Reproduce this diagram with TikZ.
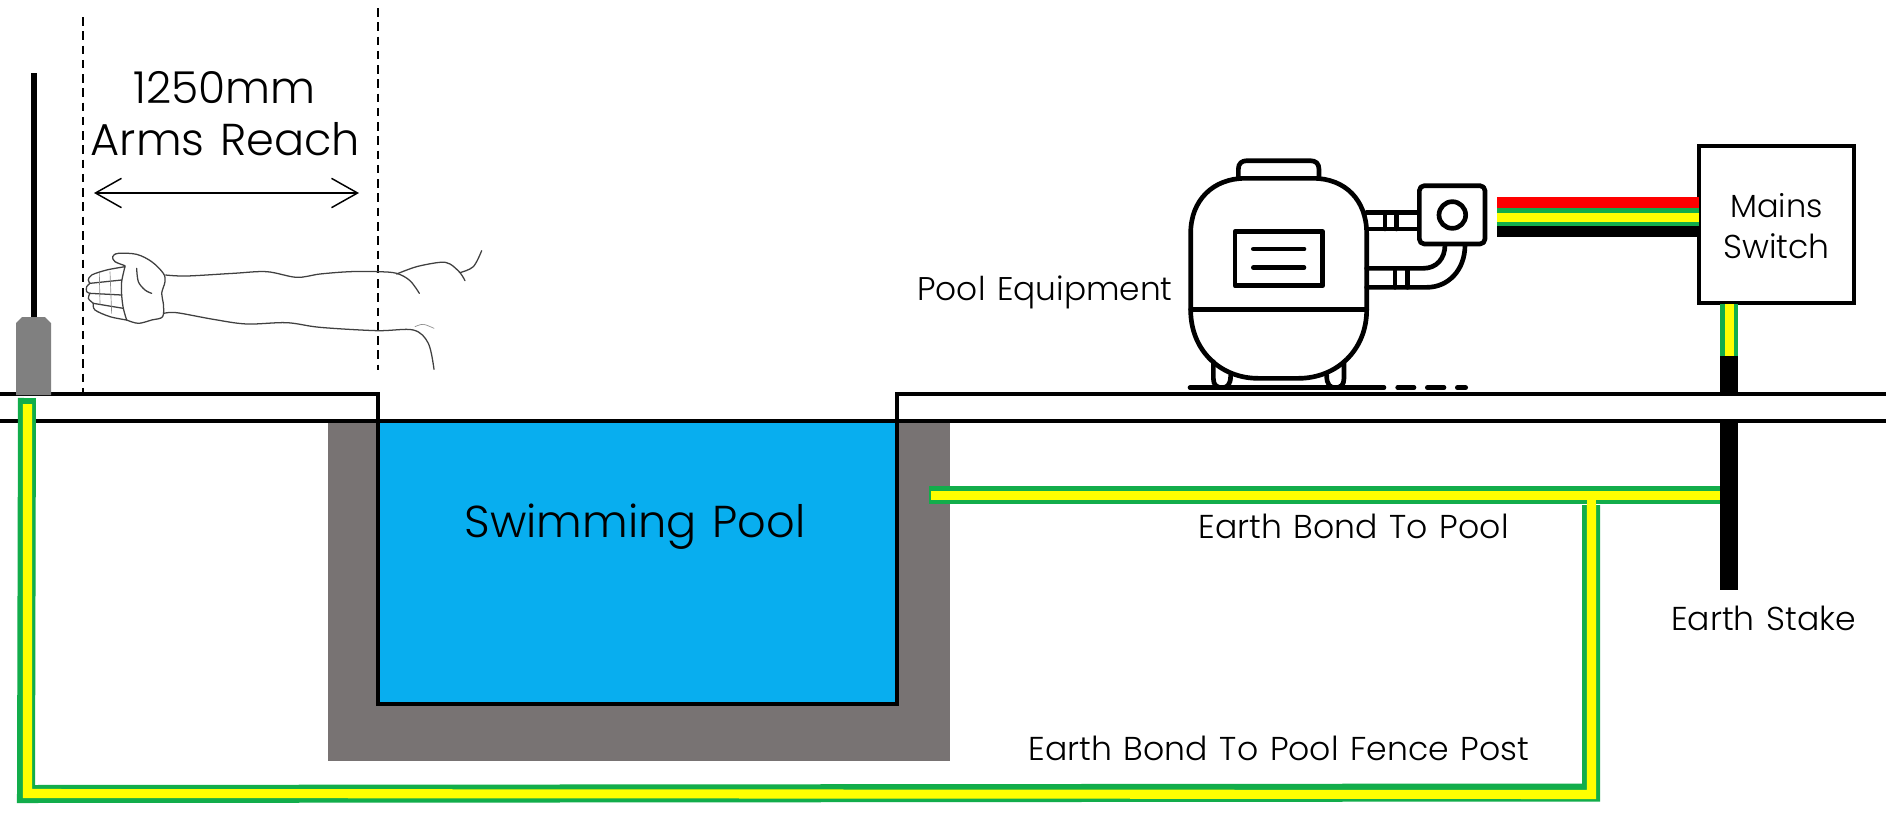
\documentclass[tikz,border=0pt]{standalone}
\usepackage{fontspec}
\setmainfont{Poppins Light}[WordSpace=1.3]
\usetikzlibrary{arrows.meta}
\definecolor{wiregreen}{HTML}{12AD4B}
\definecolor{wireyellow}{HTML}{FFFF00}
\definecolor{wirered}{HTML}{FF0000}
\definecolor{poolblue}{HTML}{08AEEF}
\definecolor{shellgrey}{HTML}{787373}
\definecolor{postgrey}{HTML}{808080}
\definecolor{armline}{HTML}{404040}
\tikzset{
  x=0.75pt,y=-0.75pt,
  ground/.style={line width=2.6pt,black,miter limit=10},
  dimline/.style={line width=1.5pt,black,dash pattern=on 6.4pt off 4.3pt},
  greenw/.style={line width=13.5pt,wiregreen},
  yellowW/.style={line width=6.8pt,wireyellow},
  blackw/.style={line width=8.25pt,black},
  stake/.style={line width=13.5pt,black},
  bigtext/.style={font=\fontsize{33.5}{40}\selectfont,anchor=base,inner sep=0pt,text=black},
  smalltext/.style={font=\fontsize{24.8}{28}\selectfont,anchor=base,inner sep=0pt,text=black},
  icon/.style={line width=3.5pt,black,line cap=round,line join=round},
  arm/.style={line width=0.95pt,armline,line cap=round,line join=round},
  armfaint/.style={line width=0.5pt,armline!60,line cap=round},
  dim/.style={line width=1.1pt,black,{Straight Barb[length=19.5pt,width=22pt]}-{Straight Barb[length=19.5pt,width=22pt]}},
  zoomA/.style={x=0.25pt,y=-0.25pt},
}
\begin{document}
\begin{tikzpicture}
\useasboundingbox (0,0) rectangle (1886,822);
\fill[white] (0,0) rectangle (1886,822);
% shell and water
\fill[shellgrey] (328,421) rectangle (950,761);
\node[draw=black,fill=poolblue,line width=2.6pt,outer sep=0pt,minimum width=519*0.75pt,minimum height=283*0.75pt,inner sep=0pt,anchor=north west] (pool) at (378,421) {};
% ground
\coordinate (gl) at (0,394);
\coordinate (gr) at (1886,394);
\draw[ground] (gl) -- (378,394) -- (378,421);
\draw[ground] (897,421) -- (897,394) -- (gr);
\draw[ground] (0,421) -- (1886,421);
% fence post
\coordinate (postTop) at (34,73);
\coordinate (postBase) at (34,318);
\draw[line width=4.5pt,black] (postTop) -- (postBase);
\fill[postgrey] (16,395) -- (16,323) -- (22,317) -- (45,317) -- (51,323) -- (51,395) -- cycle;
% dashed limits
\coordinate (dA) at (83,17);
\coordinate (dB) at (83,393);
\coordinate (dC) at (378,8);
\coordinate (dD) at (378,370);
\draw[dimline] (dA) -- (dB);
\draw[dimline] (dC) -- (dD);
% dimension
\coordinate (arrL) at (94,193);
\coordinate (arrR) at (359,193);
\draw[dim] (arrL) -- (arrR);
\node[bigtext,font=\fontsize{33}{40}\selectfont] (t1250) at (224.5,103) {1250mm};
\node[bigtext] (tarms) at (225.5,155) {Arms Reach};
\node[bigtext] (tpool) at (635,537) {Swimming Pool};
% arm
\begin{scope}[zoomA]
\draw[arm] plot[smooth,tension=.55] coordinates {(497,825) (560,828) (700,820) (800,815) (890,832) (960,822) (1050,815) (1134,815) (1190,820) (1230,842) (1258,880)};
\draw[arm] plot[smooth,tension=.55] coordinates {(1190,822) (1250,800) (1320,787) (1350,792) (1380,818) (1395,842)};
\draw[arm] plot[smooth,tension=.55] coordinates {(1380,818) (1420,800) (1445,752)};
\draw[arm] plot[smooth,tension=.55] coordinates {(492,940) (530,938) (640,958) (740,972) (860,968) (960,982) (1130,992) (1240,990) (1285,1030) (1302,1108)};
\draw[armfaint] plot[smooth,tension=.55] coordinates {(1245,980) (1270,973) (1302,985)};
\end{scope}
\begin{scope}[shift={(80,245)},zoomA]
\draw[arm] plot[smooth,tension=.55] coordinates {(135,62) (105,50) (98,35) (115,25) (170,28) (215,50) (250,85) (255,110) (245,145) (250,175) (248,215) (215,225) (175,235) (140,225)};
\draw[arm] plot[smooth,tension=.55] coordinates {(135,65) (125,110) (125,150) (130,190) (140,225)};
\draw[arm] plot[smooth,tension=.55] coordinates {(170,70) (175,110) (195,135) (215,145)};
\draw[arm] plot[smooth,tension=.55] coordinates {(135,65) (80,75) (35,90) (25,105) (30,115)};
\draw[arm] (30,115) -- (125,105);
\draw[arm] plot[smooth,tension=.55] coordinates {(30,115) (20,125) (20,140) (30,145)};
\draw[arm] (30,145) -- (125,150);
\draw[arm] plot[smooth,tension=.55] coordinates {(30,145) (25,160) (40,175)};
\draw[arm] (40,175) -- (130,190);
\draw[arm] plot[smooth,tension=.55] coordinates {(40,175) (45,195) (90,215) (140,225)};
\draw[armfaint] (58,85) -- (60,178);
\draw[armfaint] (90,80) -- (95,205);
\end{scope}
% pool equipment
\begin{scope}[shift={(1170,140)},zoomA]
\draw[icon] (205,115) -- (205,88) .. controls (205,70) and (215,62) .. (232,62) -- (420,62) .. controls (437,62) and (447,70) .. (447,88) -- (447,115);
\draw[icon] (130,665) -- (130,715) .. controls (130,735) and (140,743) .. (156,743) .. controls (172,743) and (182,735) .. (182,705);
\draw[icon] (522,665) -- (522,715) .. controls (522,735) and (512,743) .. (496,743) .. controls (480,743) and (470,735) .. (470,705);
\draw[icon] (62,280) .. controls (62,180) and (130,115) .. (225,115) -- (430,115) .. controls (525,115) and (590,180) .. (590,280) -- (590,510) .. controls (590,630) and (500,715) .. (385,715) -- (265,715) .. controls (150,715) and (62,630) .. (62,510) -- cycle;
\draw[icon] (62,508) -- (590,508);
\draw[icon] (195,275) rectangle (458,437);
\draw[icon] (250,327) -- (402,327);
\draw[icon] (250,383) -- (402,383);
\draw[icon] (590,217) -- (748,217);
\draw[icon] (590,267) -- (748,267);
\draw[icon] (645,217) -- (645,267);
\draw[icon] (680,217) -- (680,267);
\draw[icon] (590,385) -- (760,385) .. controls (800,385) and (825,355) .. (825,315);
\draw[icon] (590,442) -- (770,442) .. controls (835,442) and (885,390) .. (885,315);
\draw[icon] (675,385) -- (675,442);
\draw[icon] (712,385) -- (712,442);
\draw[icon,fill=white,rounded corners=15pt*0.25] (748,137) rectangle (945,312);
\draw[icon] (847,225) circle[radius=40];
\draw[icon] (60,743) -- (642,743);
\draw[icon] (683,743) -- (732,743);
\draw[icon] (772,743) -- (822,743);
\draw[icon] (862,743) -- (887,743);
\end{scope}
\node[smalltext,font=\fontsize{24.6}{28}\selectfont] (tequip) at (1045,300) {Pool Equipment};
% switch
\node[draw=black,fill=white,line width=3pt,outer sep=0pt,minimum width=155*0.75pt,minimum height=157*0.75pt,inner sep=0pt,anchor=north west] (switch) at (1699,146) {};
\node[smalltext,font=\fontsize{24}{28}\selectfont] (tmains) at (1776.5,217) {Mains};
\node[smalltext] (tswitch) at (1776.5,258) {Switch};
% cables
\coordinate (cabR) at (1497,202.5);
\coordinate (cabG) at (1497,217);
\coordinate (cabY) at (1497,217.5);
\coordinate (cabK) at (1497,231.5);
\draw[blackw,wirered] (cabR) -- (cabR -| switch.west);
\draw[blackw] (cabK) -- (cabK -| switch.west);
\draw[greenw] (cabG) -- (1699,217);
\draw[yellowW] (cabY) -- (1699,217.5);
% earth stake
\coordinate (stakeA) at (1729,356);
\coordinate (stakeB) at (1729,392.5);
\coordinate (stakeC) at (1729,422);
\coordinate (stakeD) at (1729,590);
\draw[stake] (stakeA) -- (stakeB);
\draw[stake] (stakeC) -- (stakeD);
\draw[greenw] (1729,304) -- (stakeA);
\draw[yellowW] (1729.5,304) -- (1729.5,356);
% earth bonds
\coordinate (bondPool) at (929,495);
\coordinate (bondStake) at (1720,495);
\coordinate (postEnd) at (27,398);
\coordinate (cornerL) at (26,794);
\coordinate (cornerR) at (1591,792.5);
\coordinate (tee) at (1591,505);
\draw[greenw,miter limit=10] (postEnd) -- (cornerL) -- (cornerR) -- (tee);
\draw[yellowW,miter limit=10] (27.5,404) -- (27.5,793.5) -- (1591.5,794.5) -- (1591.5,498);
\draw[greenw] (bondPool) -- (bondStake);
\draw[yellowW] (931,495.5) -- (1720,495.5);
\draw[yellowW] (1591.5,494) -- (1591.5,505);
\node[smalltext] (tbond) at (1353.5,538) {Earth Bond To Pool};
\node[smalltext] (tfence) at (1279,760) {Earth Bond To Pool Fence Post};
\node[smalltext] (tstake) at (1763.5,630) {Earth Stake};
\end{tikzpicture}
\end{document}
